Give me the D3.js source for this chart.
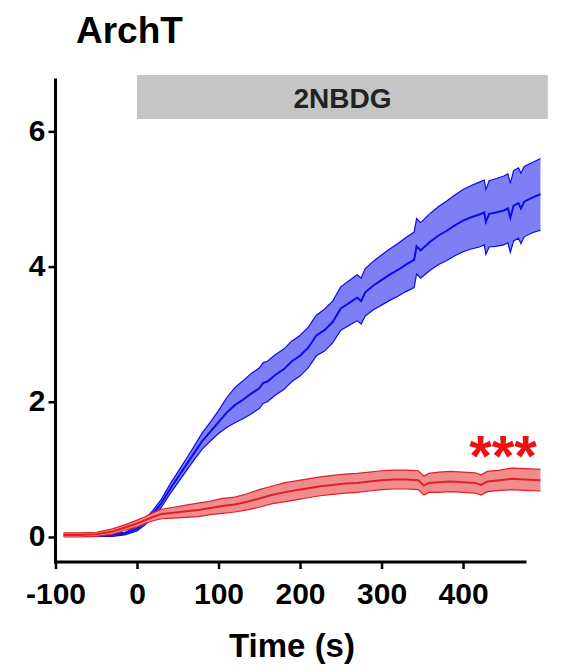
<!DOCTYPE html>
<html>
<head>
<meta charset="utf-8">
<script src="https://cdn.jsdelivr.net/npm/d3@7/dist/d3.min.js"></script>
<style>
  body { margin: 0; background: #fff; }
  svg text { font-family: "Liberation Sans", Arial, sans-serif; font-weight: bold; }
</style>
</head>
<body>
<svg id="chart" width="564" height="667"></svg>
<script>
// ---- data ----
var blueTime = [-90,-70,-50,-30,-15,0,10,20,30,40,50,60,70,80,90,100,110,120,130,140,150,155,160,170,180,190,200,210,220,230,240,250,260,270,275,280,290,300,310,320,330,340,343,348,360,370,380,390,400,410,420,426,428,432,440,450,455,458,462,468,471,475,485,495];
var blueMean = [0.03,0.03,0.03,0.03,0.05,0.12,0.22,0.35,0.5,0.7,0.88,1.06,1.24,1.42,1.56,1.7,1.84,1.95,2.03,2.12,2.2,2.28,2.3,2.4,2.48,2.6,2.68,2.8,2.98,3.06,3.18,3.38,3.46,3.54,3.49,3.62,3.72,3.8,3.88,3.95,4.03,4.1,4.3,4.24,4.37,4.46,4.53,4.61,4.68,4.73,4.77,4.8,4.66,4.78,4.8,4.83,4.86,4.72,4.9,4.94,4.86,4.96,5.02,5.07];
var blueSem  = [0.02,0.02,0.02,0.02,0.02,0.03,0.04,0.05,0.06,0.07,0.08,0.09,0.1,0.12,0.14,0.17,0.22,0.26,0.28,0.3,0.3,0.3,0.3,0.3,0.3,0.3,0.3,0.3,0.3,0.31,0.31,0.32,0.33,0.34,0.34,0.35,0.36,0.37,0.38,0.39,0.4,0.41,0.41,0.41,0.42,0.43,0.44,0.45,0.46,0.47,0.48,0.48,0.48,0.49,0.5,0.51,0.51,0.51,0.52,0.52,0.52,0.52,0.52,0.53];

var redTime = [-90,-70,-50,-30,-15,0,10,20,30,45,60,75,90,105,120,135,150,165,180,195,210,225,240,255,270,285,300,315,330,345,352,358,370,385,400,415,422,430,445,460,475,495];
var redMean = [0.03,0.03,0.04,0.08,0.14,0.2,0.25,0.3,0.34,0.36,0.38,0.4,0.43,0.46,0.48,0.52,0.57,0.62,0.66,0.69,0.72,0.75,0.77,0.79,0.8,0.82,0.84,0.85,0.85,0.84,0.76,0.8,0.81,0.82,0.81,0.8,0.77,0.82,0.84,0.86,0.85,0.84];
var redSem  = [0.03,0.03,0.03,0.04,0.04,0.05,0.05,0.06,0.07,0.08,0.09,0.1,0.1,0.11,0.11,0.12,0.13,0.13,0.14,0.14,0.14,0.14,0.14,0.14,0.14,0.14,0.14,0.14,0.14,0.14,0.14,0.14,0.15,0.15,0.15,0.15,0.15,0.15,0.15,0.16,0.16,0.16];

var xTicks = [-100, 0, 100, 200, 300, 400];
var yTicks = [0, 2, 4, 6];
var stimulus = { label: "2NBDG", start: 0, end: 504 };

// ---- scales ----
var svg = d3.select("#chart");
var x = d3.scaleLinear().domain([-100, 476]).range([55.5, 525]);
var y = d3.scaleLinear().domain([-0.37, 6.76]).range([562, 80]);

function zipSeries(t, m, s) {
  return t.map(function(d, i) { return { t: d, m: m[i], s: s[i] }; });
}
var blue = zipSeries(blueTime, blueMean, blueSem);
var red = zipSeries(redTime, redMean, redSem);

// title
svg.append("text").attr("x", 76).attr("y", 43)
  .style("font-size", "37px").text("ArchT");

// stimulus bar
svg.append("rect")
  .attr("x", x(stimulus.start)).attr("y", 75)
  .attr("width", x(stimulus.end) - x(stimulus.start)).attr("height", 44)
  .attr("fill", "#c4c5c4");
svg.append("text")
  .attr("x", (x(stimulus.start) + x(stimulus.end)) / 2).attr("y", 108)
  .attr("text-anchor", "middle").attr("fill", "#222")
  .style("font-size", "28px").text(stimulus.label);

// traces: band + edges + mean line
function drawTrace(data, fill, stroke) {
  var g = svg.append("g");
  g.append("path").datum(data)
    .attr("fill", fill)
    .attr("d", d3.area()
      .x(function(d) { return x(d.t); })
      .y0(function(d) { return y(d.m - d.s); })
      .y1(function(d) { return y(d.m + d.s); }));
  [-1, 1].forEach(function(sign) {
    g.append("path").datum(data)
      .attr("fill", "none").attr("stroke", stroke).attr("stroke-width", 1.2)
      .attr("d", d3.line()
        .x(function(d) { return x(d.t); })
        .y(function(d) { return y(d.m + sign * d.s); }));
  });
  g.append("path").datum(data)
    .attr("fill", "none").attr("stroke", stroke).attr("stroke-width", 2)
    .attr("d", d3.line()
      .x(function(d) { return x(d.t); })
      .y(function(d) { return y(d.m); }));
}
drawTrace(blue, "#7f7ff5", "#0c0ce8");
drawTrace(red, "#f08c8c", "#e41e26");

// significance
svg.append("text").attr("x", 503).attr("y", 476)
  .attr("text-anchor", "middle").attr("fill", "#ee1111")
  .style("font-size", "58px").text("***");

// axes
var yAxis = svg.append("g").attr("transform", "translate(55.5,0)")
  .call(d3.axisLeft(y).tickValues(yTicks).tickSize(7).tickFormat(function(d) { return String(d); }));
var xAxis = svg.append("g").attr("transform", "translate(0,562)")
  .call(d3.axisBottom(x).tickValues(xTicks).tickSize(7).tickFormat(function(d) { return String(d); }));

[yAxis, xAxis].forEach(function(a) {
  a.select(".domain").attr("stroke", "#000").attr("stroke-width", 3)
    .attr("stroke-linecap", "square");
  a.selectAll(".tick line").attr("stroke", "#000").attr("stroke-width", 2.5);
  a.selectAll(".tick text").attr("fill", "#000").style("font-size", "30px")
    .style("font-family", "'Liberation Sans', Arial, sans-serif").style("font-weight", "bold");
});
yAxis.select(".domain").attr("d", "M0," + y(-0.37) + "V" + y(6.76));
xAxis.select(".domain").attr("d", "M" + x(-100) + ",0H" + x(476));
yAxis.selectAll(".tick text").attr("x", -10).attr("dy", "0.3em");
xAxis.selectAll(".tick text").attr("y", 19).attr("dy", "0.75em");

// x label
svg.append("text").attr("x", 292).attr("y", 657)
  .attr("text-anchor", "middle").style("font-size", "33px").text("Time (s)");
</script>
</body>
</html>
